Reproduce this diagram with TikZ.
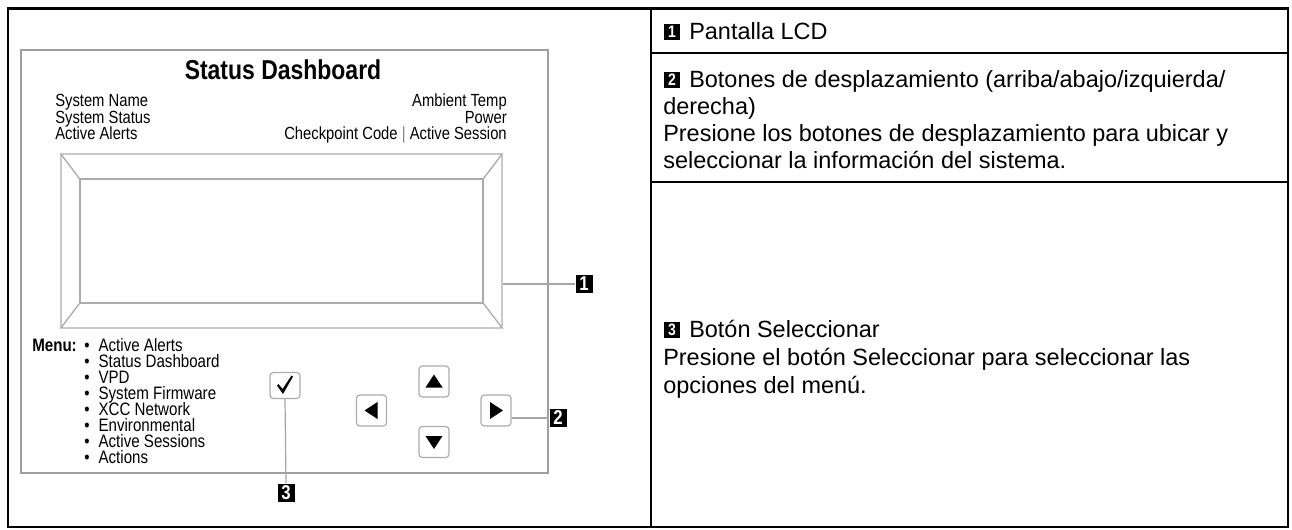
\documentclass[tikz,border=0pt]{standalone}
\usepackage{fontspec}
\setmainfont{Liberation Sans}
\newfontfamily\condfont[FakeStretch=0.84]{Liberation Sans}
\begin{document}
\begin{tikzpicture}[x=0.75pt,y=-0.75pt,
  frame/.style={draw=black,line width=2.2pt},
  panel/.style={draw=gray!75,line width=0.8pt},
  lcd/.style={draw=gray!65,line width=1pt,inner sep=0pt},
  lead/.style={draw=gray!70,line width=0.9pt},
  btn/.style={draw=gray!65,line width=0.9pt,rounded corners=2.5pt,minimum width=22.5pt,minimum height=23.25pt,inner sep=0pt},
  numlab/.style={fill=black,text=white,font=\condfont\bfseries\fontsize{15}{15}\selectfont,minimum width=12.75pt,minimum height=14pt,inner sep=0pt},
  rlab/.style={fill=black,text=white,font=\condfont\bfseries\fontsize{12.5}{12.5}\selectfont,minimum width=12pt,minimum height=11.5pt,inner sep=0pt},
  ptxt/.style={font=\condfont\fontsize{13.2}{14}\selectfont,inner sep=0pt},
  mtxt/.style={font=\condfont\fontsize{13.5}{14}\selectfont,inner sep=0pt},
  ttl/.style={font=\condfont\bfseries\fontsize{20.5}{21}\selectfont,inner sep=0pt},
  rtxt/.style={font=\fontsize{17.6}{20}\selectfont,inner sep=0pt}
]
\useasboundingbox (0,0) rectangle (1292,529);
% outer table
\draw[frame] (8,8.5) rectangle (1288,527);
\draw[frame] (651,8.5) -- (651,527);
\draw[frame] (651,53) -- (1288,53);
\draw[frame] (651,182) -- (1288,182);
% panel
\draw[panel] (21,50) rectangle (548,473);
\node[ttl] (title) at (283,70) {Status Dashboard};
\node[ptxt,anchor=base west] (sn) at (55,106.5) {System Name};
\node[ptxt,anchor=base west] (ss) at (55,123) {System Status};
\node[ptxt,anchor=base west] (aa) at (55,139.5) {Active Alerts};
\node[ptxt,anchor=base east] (amb) at (507,106.5) {Ambient Temp};
\node[ptxt,anchor=base east] (pw) at (507,123) {Power};
\node[ptxt,anchor=base east] (cc) at (507,139.5) {Checkpoint Code {\color{gray}|} Active Session};
% LCD
\node[lcd,rounded corners=1.5pt,minimum width=330.75pt,minimum height=130.5pt] (lcd) at (281.5,241) {};
\node[lcd,minimum width=302.25pt,minimum height=93pt] (lcdin) at (281.5,241) {};
\draw[lcd] (lcd.north west) -- (lcdin.north west)
           (lcd.north east) -- (lcdin.north east)
           (lcd.south west) -- (lcdin.south west)
           (lcd.south east) -- (lcdin.south east);
% menu
\node[mtxt,anchor=base west] (menu) at (32,351) {\bfseries Menu:};
\foreach \t [count=\i from 0] in {Active Alerts,Status Dashboard,VPD,System Firmware,XCC Network,Environmental,Active Sessions,Actions}{
  \node[mtxt,anchor=base west] (m\i) at (84,351+16*\i) {\textbullet\hspace{0.5em}\t};
}
% buttons
\node[btn,minimum height=19.5pt] (check) at (285,385.5) {};
\node[btn] (up) at (434,381.5) {};
\node[btn] (down) at (434,442) {};
\node[btn] (left) at (371.5,410.5) {};
\node[btn] (right) at (496,410.5) {};
\fill (up.center) ++(0,-7) -- ++(8.5,13) -- ++(-17,0) -- cycle;
\fill (down.center) ++(0,7) -- ++(8.5,-13) -- ++(-17,0) -- cycle;
\fill (left.center) ++(-7,0) -- ++(13,-8.5) -- ++(0,17) -- cycle;
\fill (right.center) ++(7,0) -- ++(-13,-8.5) -- ++(0,17) -- cycle;
\fill (check.center) ++(-8,0) -- ++(1.5,-1.5) -- ++(4,5) -- ++(9,-13.5) -- ++(1.5,1) -- ++(-10,17.5) -- cycle;
% callouts
\node[numlab] (l1) at (584,284) {1};
\node[numlab] (l2) at (558,418) {2};
\node[numlab] (l3) at (286,493) {3};
\draw[lead] (lcd.east |- l1) -- (l1.west);
\draw[lead] (right.east |- l2) -- (l2.west);
\draw[lead] (check.south) -- (l3.north);
% right column
\node[rlab] (rl1) at (672,32) {1};
\node[rtxt,anchor=base west] (rt1) at (689,39) {Pantalla LCD};
\node[rlab] (rl2) at (672,80) {2};
\node[rtxt,anchor=base west] (rt2a) at (689,87) {Botones de desplazamiento (arriba/abajo/izquierda/};
\node[rtxt,anchor=base west] (rt2b) at (663,114) {derecha)};
\node[rtxt,anchor=base west] (rt2c) at (663,141) {Presione los botones de desplazamiento para ubicar y};
\node[rtxt,anchor=base west] (rt2d) at (663,168) {seleccionar la información del sistema.};
\node[rlab] (rl3) at (672,330) {3};
\node[rtxt,anchor=base west] (rt3a) at (689,337) {Botón Seleccionar};
\node[rtxt,anchor=base west] (rt3b) at (663,365) {Presione el botón Seleccionar para seleccionar las};
\node[rtxt,anchor=base west] (rt3c) at (663,393) {opciones del menú.};
\end{tikzpicture}
\end{document}
